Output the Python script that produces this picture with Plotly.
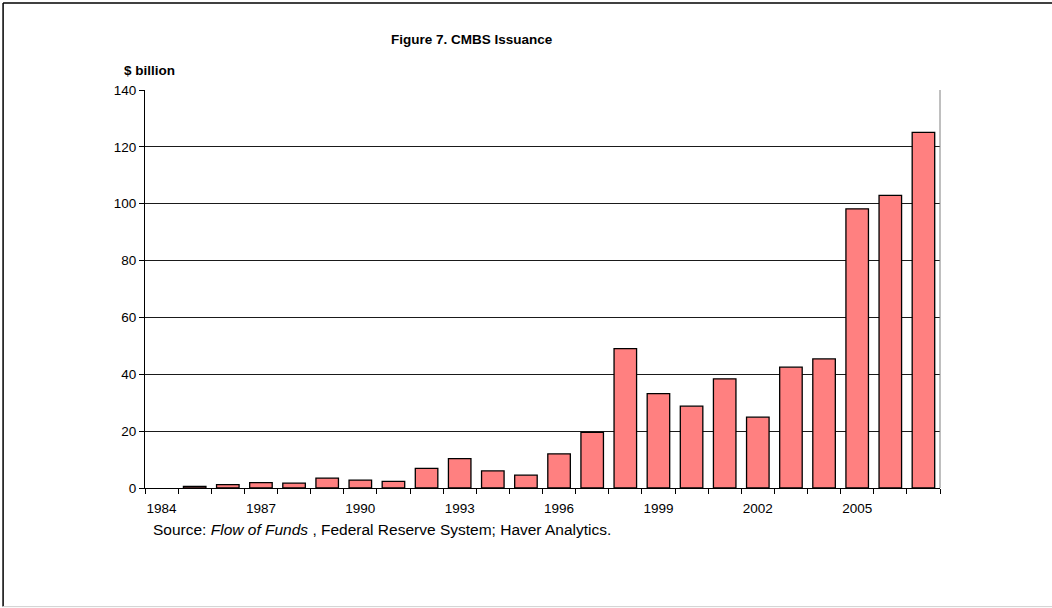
import plotly.graph_objects as go

# Annual CMBS issuance, $ billion
years = list(range(1984, 2008))
issuance = [0.0, 0.6, 1.2, 1.9, 1.7, 3.5, 2.8, 2.3, 6.9, 10.3, 6.0, 4.5,
            12.0, 19.6, 49.0, 33.2, 28.8, 38.4, 24.9, 42.5, 45.4, 98.2, 102.9, 125.1]
label_years = [1984, 1987, 1990, 1993, 1996, 1999, 2002, 2005]
y_ticks = [0, 20, 40, 60, 80, 100, 120, 140]

W, H = 1052, 608
L, R, T, B = 144.5, 940.0, 90.0, 488.3
FONT = "Liberation Sans, Arial, Helvetica, sans-serif"


def px(x):
    return (x - L) / (R - L)


def py(y):
    return (B - y) / (B - T)


# no outline for empty years
outline_widths = [1.3 if v > 0 else 0 for v in issuance]

fig = go.Figure()
fig.add_trace(go.Bar(
    x=years, y=issuance, width=0.68,
    marker=dict(color="#FF8080", line=dict(color="#000000", width=outline_widths)),
    hoverinfo="x+y",
))

fig.update_layout(
    width=W, height=H,
    margin=dict(l=L, r=W - R, t=T, b=H - B, pad=0),
    paper_bgcolor="white", plot_bgcolor="white",
    showlegend=False, bargap=0.32,
    font=dict(family=FONT, size=13.5, color="#000000"),
    xaxis=dict(
        range=[1983.5, 2007.5],
        tickvals=label_years, ticktext=[str(y) for y in label_years],
        ticks="outside", ticklen=0, tickcolor="#000000",
        ticklabelstandoff=8,
        minor=dict(tickvals=[y + 0.5 for y in range(1983, 2008)],
                   ticks="outside", ticklen=5, tickcolor="#000000",
                   tickwidth=1, showgrid=False),
        showgrid=False, showline=True, linecolor="#000000", linewidth=1,
        tickfont=dict(size=13.5), fixedrange=True,
    ),
    yaxis=dict(
        range=[0, 140], tickvals=y_ticks,
        ticks="outside", ticklen=5, tickcolor="#000000", tickwidth=1,
        showgrid=True, gridcolor="#1a1a1a", gridwidth=1,
        showline=True, linecolor="#000000", linewidth=1,
        zeroline=False, tickfont=dict(size=13.5), fixedrange=True,
    ),
)

# right edge of plot area
fig.add_shape(type="line", xref="paper", yref="paper", x0=1, x1=1, y0=0, y1=1,
              line=dict(color="#808080", width=1))

# outer frame of the figure
fig.add_shape(type="line", xref="paper", yref="paper",
              x0=px(2.5), x1=px(W + 5), y0=py(3), y1=py(3),
              line=dict(color="#000000", width=1.5))
fig.add_shape(type="line", xref="paper", yref="paper",
              x0=px(2.5), x1=px(2.5), y0=py(3), y1=py(607),
              line=dict(color="#000000", width=1.5))
fig.add_shape(type="line", xref="paper", yref="paper",
              x0=px(2.5), x1=px(W + 5), y0=py(607), y1=py(607),
              line=dict(color="#d0d0d0", width=1))

fig.add_annotation(text="<b>Figure 7. CMBS Issuance</b>", xref="paper", yref="paper",
                   x=px(471.7), y=py(39.5), xanchor="center", yanchor="middle",
                   showarrow=False, font=dict(size=13.5))
fig.add_annotation(text="<b>$ billion</b>", xref="paper", yref="paper",
                   x=px(121), y=py(70), xanchor="left", yanchor="middle",
                   showarrow=False, font=dict(size=13.5))
fig.add_annotation(text="Source: <i>Flow of Funds</i> , Federal Reserve System; Haver Analytics.",
                   xref="paper", yref="paper",
                   x=px(151), y=py(530), xanchor="left", yanchor="middle",
                   showarrow=False, font=dict(size=15.5))

fig.write_html("out.html")
